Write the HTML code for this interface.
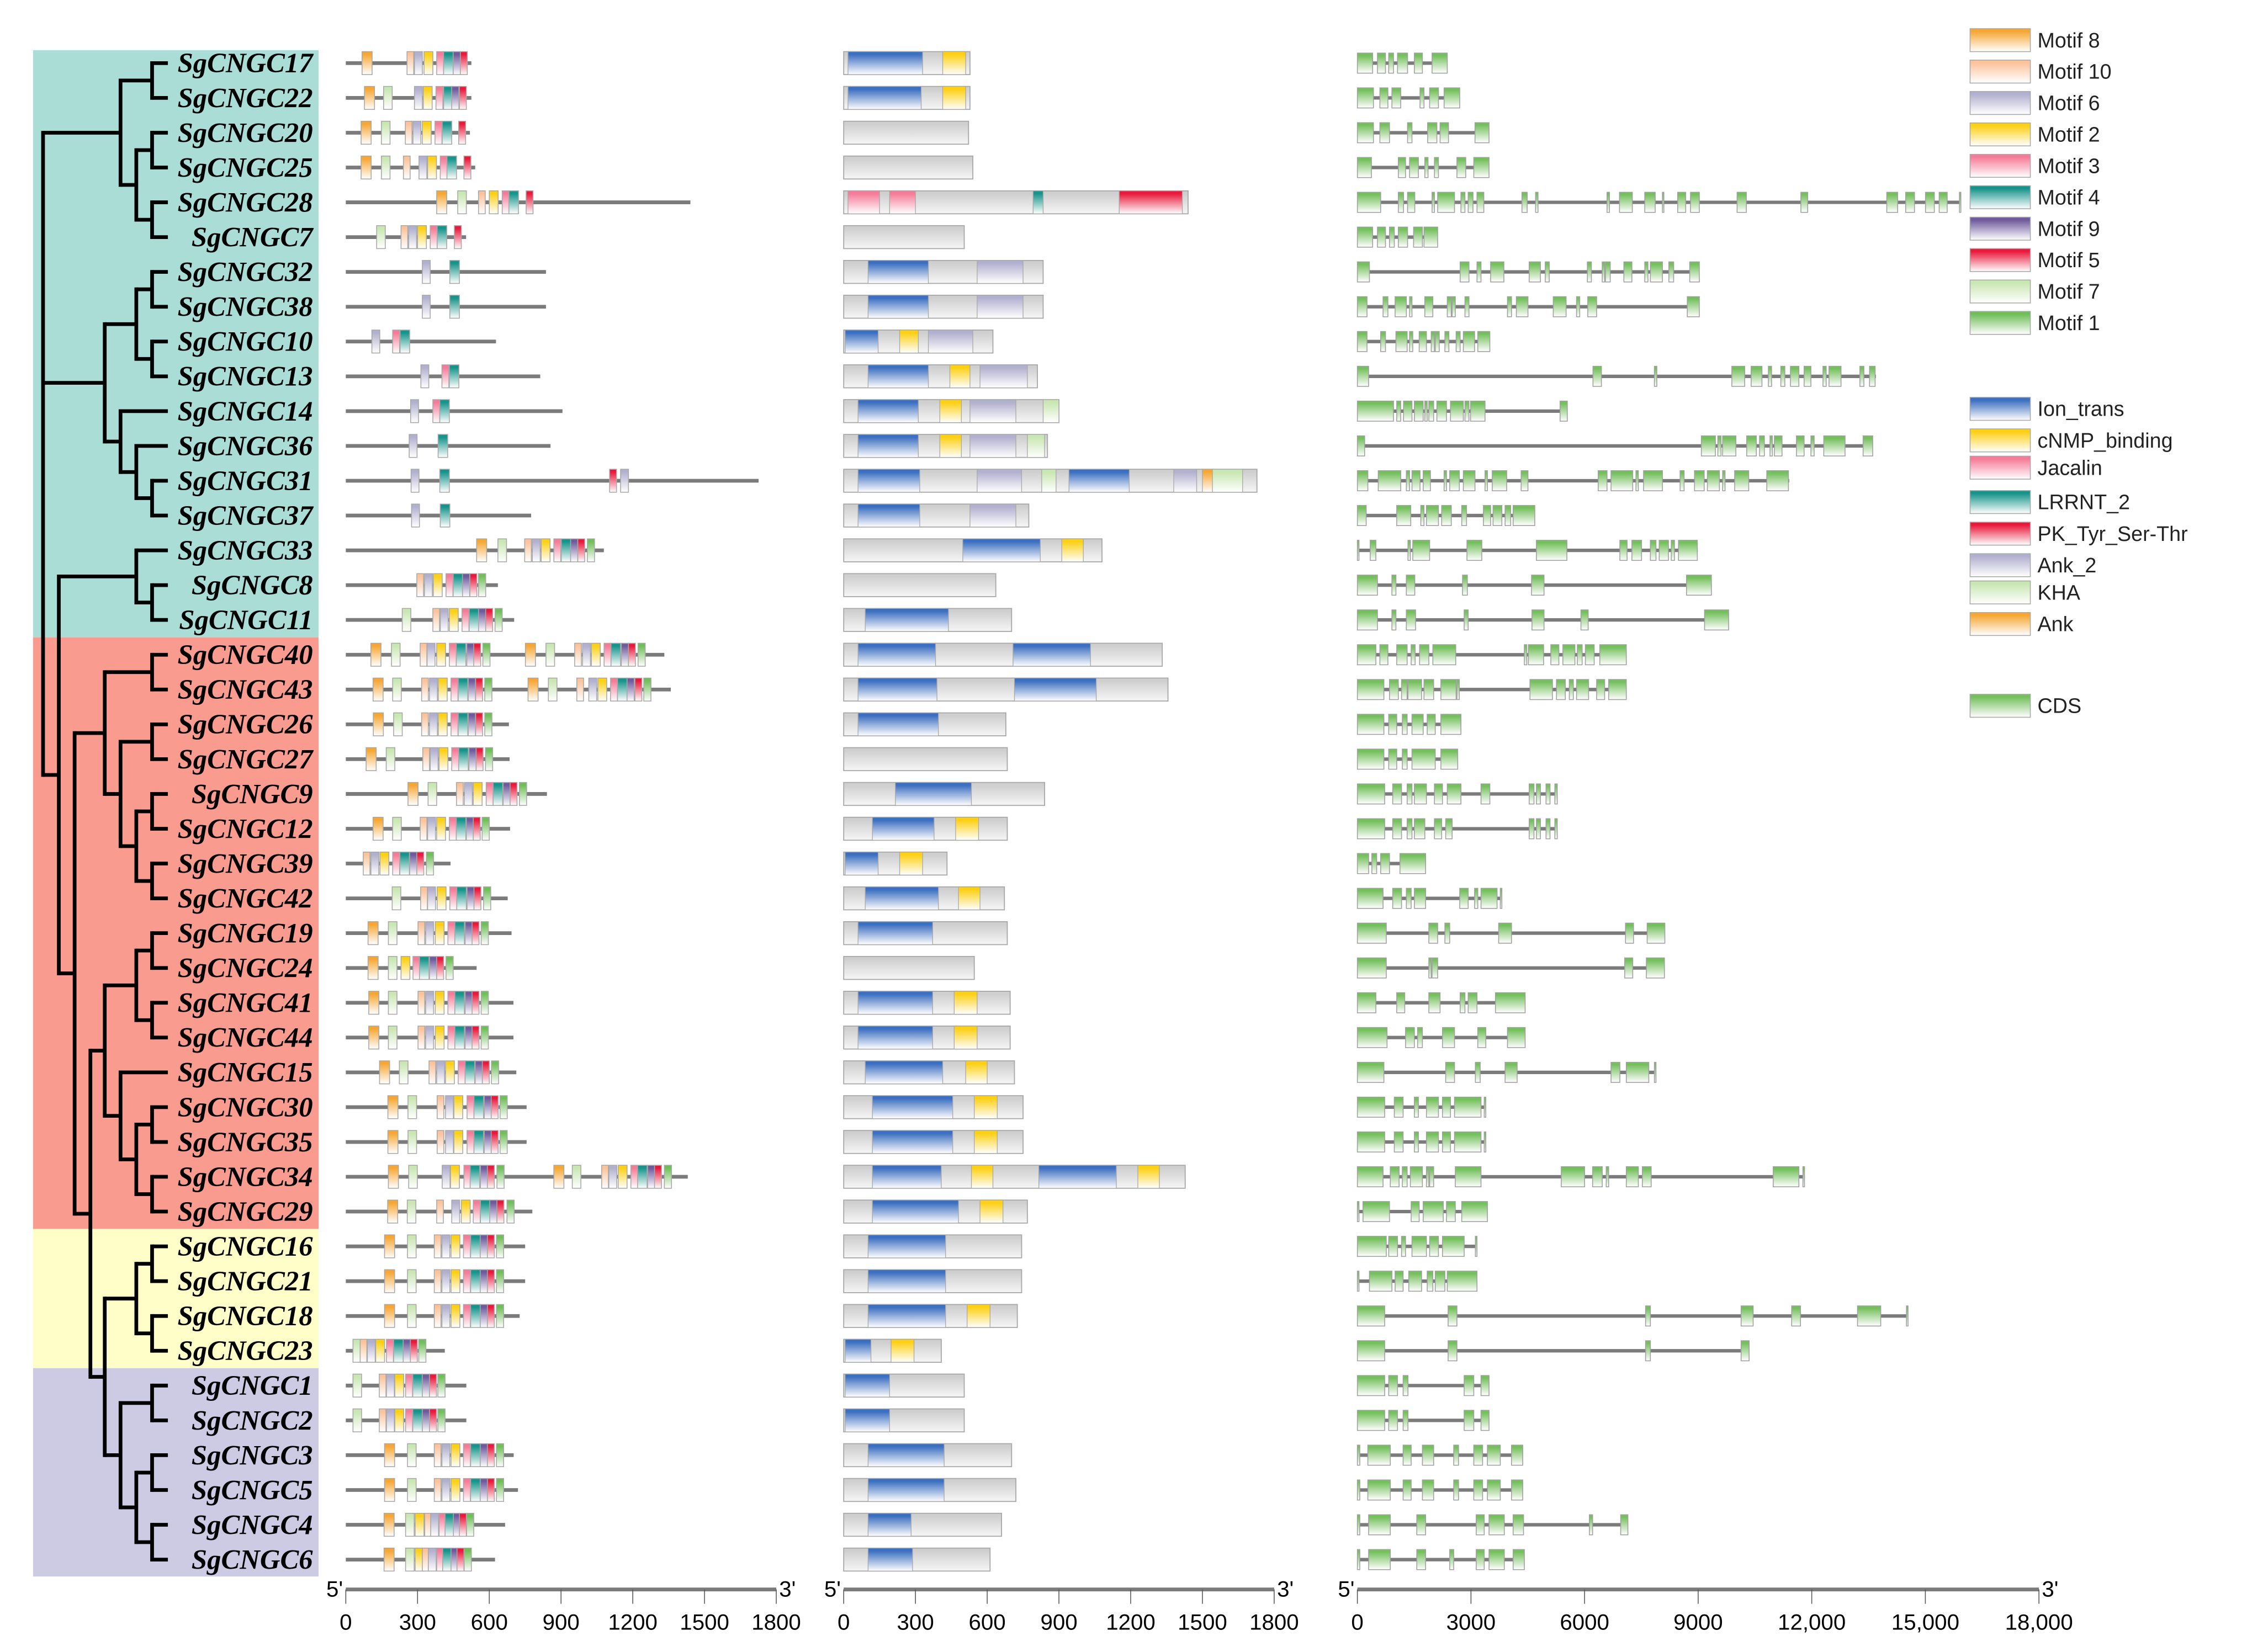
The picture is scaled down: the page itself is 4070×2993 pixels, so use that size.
<!DOCTYPE html>
<html><head><meta charset="utf-8"><style>
html,body{margin:0;padding:0;background:#fff;}
svg{display:block;}
</style></head><body>
<svg id="chart" xmlns="http://www.w3.org/2000/svg" width="4070" height="2993" viewBox="0 0 1566 1151.6" preserveAspectRatio="none">
<defs id="defs"></defs>
<g id="bg"></g>
<g id="tree"></g>
<g id="labels"></g>
<g id="motifs"></g>
<g id="domains"></g>
<g id="genes"></g>
<g id="axes"></g>
<g id="legend"></g>
</svg>
<script>
const NS="http://www.w3.org/2000/svg";
const geneNames=["SgCNGC17","SgCNGC22","SgCNGC20","SgCNGC25","SgCNGC28","SgCNGC7","SgCNGC32","SgCNGC38","SgCNGC10","SgCNGC13","SgCNGC14","SgCNGC36","SgCNGC31","SgCNGC37","SgCNGC33","SgCNGC8","SgCNGC11","SgCNGC40","SgCNGC43","SgCNGC26","SgCNGC27","SgCNGC9","SgCNGC12","SgCNGC39","SgCNGC42","SgCNGC19","SgCNGC24","SgCNGC41","SgCNGC44","SgCNGC15","SgCNGC30","SgCNGC35","SgCNGC34","SgCNGC29","SgCNGC16","SgCNGC21","SgCNGC18","SgCNGC23","SgCNGC1","SgCNGC2","SgCNGC3","SgCNGC5","SgCNGC4","SgCNGC6"];
const clades=[{from:0,to:16,color:"#a9ddd6"},{from:17,to:33,color:"#f99b8f"},{from:34,to:37,color:"#fffdc8"},{from:38,to:43,color:"#cdcbe4"}];
const tree=[30,[84,[106,0,1],[95,[106,2,3],[106,4,5]]],[73,[95,[106,6,7],[106,8,9]],[84,10,[95,11,[106,12,13]]]],[41,[95,14,[106,15,16]],[52,[73,[106,17,18],[84,[106,19,20],[95,[106,21,22],[106,23,24]]]],[63,[73,[95,[106,25,26],[106,27,28]],[84,29,[95,[106,30,31],[106,32,33]]]],[73,[95,[106,34,35],[106,36,37]],[84,[106,38,39],[95,[106,40,41],[106,42,43]]]]]]]];
const protLen=[525,525,519,541,1441,503,837,837,628,813,906,856,1726,775,1079,636,704,1332,1359,682,685,841,687,438,677,693,547,701,701,713,756,756,1430,780,750,750,727,414,504,504,702,720,666,624];
const motifPos=[
"8:68 10:256 6:287 2:327 3:380 4:409 9:449 5:479",
"8:78 7:158 6:287 2:324 3:377 4:409 9:443 5:475",
"8:64 7:149 10:249 6:281 2:320 3:373 4:403 5:472",
"8:64 7:149 10:241 6:306 2:342 3:395 4:423 5:494",
"8:380 7:468 10:555 2:600 3:654 4:682 5:754",
"7:129 10:231 6:263 2:300 3:353 4:382 5:454",
"6:320 4:435","6:320 4:435","6:109 3:196 4:227","6:314 3:402 4:433","6:271 3:364 4:393","6:265 4:386",
"6:273 4:393 5:1103 6:1149","6:275 4:395",
"8:547 7:636 10:748 6:780 2:817 3:870 4:901 9:940 5:970 1:1010",
"10:297 6:329 2:366 3:419 4:449 9:488 5:519 1:555",
"7:236 10:364 6:395 2:433 3:486 4:516 9:555 5:585 1:624",
"8:105 7:191 10:311 6:340 2:380 3:433 4:462 9:506 5:535 1:573 8:751 7:837 10:957 6:990 2:1027 3:1080 4:1109 9:1152 5:1182 1:1222",
"8:114 7:196 10:317 6:350 2:387 3:440 4:470 9:512 5:543 1:581 8:762 7:847 10:966 6:1016 2:1054 3:1107 4:1136 9:1176 5:1209 1:1246",
"8:115 7:200 10:317 6:350 2:387 3:440 4:470 9:512 5:543 1:581",
"8:85 7:169 10:322 6:353 2:390 3:443 4:472 9:515 5:545 1:584",
"8:260 7:344 10:463 6:496 2:533 3:587 4:616 9:658 5:687 1:726",
"8:114 7:196 10:311 6:342 2:380 3:433 4:462 9:504 5:533 1:570",
"10:73 6:105 2:143 3:196 4:226 9:267 5:297 1:337",
"7:194 10:313 6:342 2:382 3:435 4:464 9:507 5:536 1:576",
"8:93 7:178 10:302 6:334 2:374 3:427 4:456 9:499 5:528 1:566",
"8:93 7:178 2:231 3:281 4:308 9:350 5:380 1:419",
"8:96 7:178 10:302 6:334 2:374 3:427 4:456 9:499 5:528 1:566",
"8:96 7:178 10:302 6:334 2:374 3:427 4:456 9:499 5:528 1:566",
"8:141 7:224 10:348 6:380 2:417 3:470 4:499 9:541 5:571 1:609",
"8:176 7:260 10:382 6:417 2:452 3:507 4:536 9:579 5:608 1:645",
"8:176 7:260 10:382 6:417 2:452 3:507 4:536 9:579 5:608 1:645",
"8:178 7:263 6:403 2:438 3:494 4:520 9:563 5:592 1:632 8:870 7:947 10:1070 6:1100 2:1139 3:1192 4:1220 9:1262 5:1291 1:1332",
"8:175 7:257 10:380 6:443 2:483 3:533 4:563 9:602 5:632 1:674",
"8:162 7:258 10:370 6:402 2:440 3:492 4:522 9:562 5:592 1:630",
"8:162 7:258 10:370 6:402 2:440 3:492 4:522 9:562 5:592 1:630",
"8:162 7:258 10:370 6:402 2:440 3:492 4:522 9:562 5:592 1:630",
"7:30 10:60 6:90 2:125 3:170 4:200 9:240 5:270 1:305",
"7:30 10:140 6:170 2:205 3:250 4:280 9:320 5:350 1:385",
"7:30 10:140 6:170 2:205 3:250 4:280 9:320 5:350 1:385",
"8:162 7:258 10:370 6:402 2:440 3:492 4:522 9:562 5:592 1:630",
"8:162 7:258 10:370 6:402 2:440 3:492 4:522 9:562 5:592 1:630",
"8:160 7:250 2:290 10:330 6:355 3:390 4:415 9:450 5:475 1:505",
"8:160 7:250 2:290 10:320 6:345 3:380 4:405 9:440 5:465 1:495"];
const motifWidth={"8":42,"10":28,"6":33,"2":37,"3":29,"4":40,"9":30,"5":29,"7":36,"1":30};
const motifColor={"8":"#f6a733","10":"#fcc39b","6":"#b2b0cf","2":"#fdd014","3":"#f57b98","4":"#16948b","9":"#6e5a9c","5":"#e9193b","7":"#c9e7b2","1":"#6fbf58"};
const motifLegend=["8","10","6","2","3","4","9","5","7","1"];
const domLen=[528,528,522,540,1440,504,834,834,624,810,900,852,1728,774,1080,636,702,1332,1356,678,684,840,684,432,672,684,546,696,696,714,750,750,1428,768,744,744,726,408,504,504,702,720,660,612];
const domPos=["I:18-330 C:414-510","I:18-324 C:414-510","","","J:18-150 J:192-300 L:792-834 P:1152-1416","",
"I:102-354 A:558-750","I:102-354 A:558-750","I:6-144 C:234-312 A:354-540","I:102-354 C:444-528 A:570-768",
"I:60-312 C:402-492 A:528-720 K:834-900","I:60-312 C:402-492 A:528-720 K:768-840",
"I:60-318 A:558-744 K:828-888 I:942-1194 A:1380-1476 N:1500-1542 K:1542-1668","I:60-318 A:528-720",
"I:498-822 C:912-1002","","I:90-438","I:60-384 I:708-1032","I:60-390 I:714-1056","I:60-396","","I:216-534",
"I:120-378 C:468-564","I:6-144 C:234-330","I:90-396 C:480-570","I:60-372","","I:60-372 C:462-558","I:60-372 C:462-558",
"I:90-414 C:510-600","I:120-456 C:546-642","I:120-456 C:546-642","I:120-408 C:534-624 I:816-1140 C:1230-1320",
"I:120-480 C:570-666","I:102-426","I:102-426","I:102-426 C:516-612","I:6-114 C:198-294","I:6-192","I:6-192",
"I:102-420","I:102-420","I:102-282","I:102-288"];
const domColor={"I":"#3b6fc1","C":"#fdd014","J":"#f57b98","L":"#16948b","P":"#e9193b","A":"#b2b0cf","K":"#c9e7b2","N":"#f6a733"};
const domLegend=[["I","Ion_trans"],["C","cNMP_binding"],["J","Jacalin"],["L","LRRNT_2"],["P","PK_Tyr_Ser-Thr"],["A","Ank_2"],["K","KHA"],["N","Ank"]];
const geneLen=[2374,2703,3477,3477,15921,2120,9031,9031,3498,13695,5544,13610,11406,4685,8989,9360,9805,7102,7102,2735,2650,5279,5279,1802,3816,8120,8109,4431,4431,7886,3392,3392,11808,3434,3159,3159,14543,10346,3477,3477,4367,4367,7144,4410];
const exonPos=[
"0-403 530-742 827-954 1060-1325 1505-1717 1972-2374",
"0-424 594-806 912-1145 1654-1760 1908-2141 2290-2703",
"0-424 594-848 1325-1442 1855-2099 2184-2406 3106-3477",
"0-371 1081-1272 1378-1611 1781-1866 2035-2141 2629-2862 3074-3477",
"0-615 1081-1219 1325-1516 1972-2035 2120-2565 2735-2841 2926-3053 3159-3339 4346-4484 4706-4770 6593-6657 6922-7261 7590-7865 8056-8088 8459-8671 8798-9031 10028-10272 11713-11893 13981-14268 14480-14713 15004-15237 15365-15577 15900-15921",
"0-403 530-742 848-975 1081-1325 1484-1717 1759-2120",
"0-318 2714-2947 3159-3265 3519-3869 4537-4834 4961-5067 6074-6180 6466-6530 6551-6678 7038-7250 7590-7674 7738-8056 8226-8353 8777-9031",
"0-254 678-806 996-1293 1378-1442 1781-1993 2374-2480 2502-2586 2841-2947 3964-4070 4198-4505 5173-5512 5788-5872 6084-6318 8713-9031",
"0-254 615-742 1018-1314 1378-1463 1632-1823 1950-2035 2056-2162 2311-2417 2608-2714 2798-3095 3180-3498",
"0-297 6222-6445 7844-7908 9889-10229 10399-10685 10854-10939 11183-11289 11437-11660 11798-11978 12296-12381 12455-12773 13271-13377 13526-13674",
"0-954 1039-1145 1219-1442 1505-1738 1781-1844 1886-2014 2099-2353 2459-2798 2841-2947 2989-3371 5353-5544",
"0-191 9084-9455 9519-9604 9646-9996 10282-10536 10621-10748 10897-10960 11013-11215 11596-11798 11978-12063 12317-12879 13356-13610",
"0-276 551-1145 1293-1378 1442-1654 1738-1929 2290-2353 2438-2692 2798-3106 3371-3434 3562-3943 4325-4505 6360-6593 6699-7272 7357-7420 7558-8056 8523-8629 8904-9159 9243-9561 9646-9710 9964-10335 10812-11384",
"0-233 1039-1410 1675-1760 1823-2141 2226-2480 2756-2883 3328-3519 3583-3816 3901-4049 4113-4685",
"0-42 339-488 1336-1399 1463-1908 2894-3286 4728-5533 6932-7123 7250-7505 7738-7886 7971-8215 8289-8374 8480-8978",
"0-530 912-1018 1293-1516 2777-2904 4600-4929 8692-9349",
"0-530 912-1018 1293-1537 2820-2926 4611-4929 5904-6095 9169-9805",
"0-488 594-806 1039-1314 1420-1526 1643-1887 1993-2597 4409-4473 4516-4918 5109-5321 5427-5745 5809-5936 6021-6254 6402-7102",
"0-700 848-1081 1166-1314 1336-1696 1759-2014 2205-2608 2629-2692 4558-5152 5258-5491 5597-5703 5788-6106 6318-6530 6636-7102",
"0-700 827-1039 1187-1314 1442-1738 1844-2056 2205-2735",
"0-700 827-1039 1187-1314 1442-2056 2205-2650",
"0-721 933-1166 1314-1442 1505-1823 2035-2247 2374-2735 3265-3498 4537-4664 4728-4834 4982-5088 5215-5279",
"0-721 933-1166 1314-1442 1505-1781 2035-2226 2332-2502 4537-4664 4728-4834 4982-5088 5215-5279",
"0-297 382-509 615-848 1124-1802",
"0-678 933-1166 1293-1420 1505-1802 2703-2926 3095-3180 3265-3689 3774-3816",
"0-763 1887-2120 2311-2438 3731-4070 7081-7293 7653-8120",
"0-763 1887-1950 1972-2120 7060-7272 7632-8109",
"0-488 1039-1251 1887-2184 2714-2841 2926-3159 3646-4431",
"0-784 1272-1505 1590-1717 2247-2565 3180-3392 3964-4431",
"0-700 2332-2565 3116-3243 3901-4219 6699-6932 7102-7696 7844-7886",
"0-721 975-1208 1505-1611 1823-2141 2247-2459 2565-3265 3350-3392",
"0-721 975-1208 1505-1611 1823-2141 2247-2459 2565-3265 3350-3392",
"0-678 869-1102 1187-1314 1399-1717 1823-1887 1908-2014 2586-3265 5385-6000 6212-6466 6572-6636 7102-7420 7526-7759 10982-11660 11766-11808",
"0-42 148-848 1420-1632 1738-2268 2353-2586 2756-3434",
"0-763 827-1060 1166-1272 1442-1823 1908-2141 2247-2820 3116-3159",
"0-42 318-912 996-1208 1357-1696 1844-1993 2056-2311 2374-3159",
"0-721 2396-2629 7611-7738 10134-10452 11469-11702 13208-13822 14501-14543",
"0-721 2396-2629 7611-7738 10134-10346",
"0-721 827-1060 1208-1336 2820-3074 3265-3477",
"0-721 827-1060 1208-1336 2820-3074 3265-3477",
"0-64 276-869 1208-1420 1717-2014 2544-2671 3074-3307 3434-3774 4070-4367",
"0-64 276-869 1208-1420 1717-2014 2544-2671 3074-3307 3434-3774 4070-4367",
"0-64 297-869 1569-1802 3138-3350 3477-3880 4113-4388 6127-6212 6954-7144",
"0-64 297-869 1569-1802 2438-2544 3138-3350 3477-3880 4113-4410"];
const aaTicks=[0,300,600,900,1200,1500,1800];
const aaTickLabels=["0","300","600","900","1200","1500","1800"];
const bpTicks=[0,3000,6000,9000,12000,15000,18000];
const bpTickLabels=["0","3000","6000","9000","12,000","15,000","18,000"];

// ---- scales ----
const rowY=i=>44+i*24.26;
const motifX=aa=>241+aa*300/1800;
const domX=aa=>588+aa*300/1800;
const geneX=bp=>946+bp*475/18000;

function el(tag,attrs,parent){const e=document.createElementNS(NS,tag);for(const k in attrs)e.setAttribute(k,attrs[k]);if(parent)parent.appendChild(e);return e;}
const defs=document.getElementById('defs');
function grad(id,color,end){const g=el('linearGradient',{id:id,x1:0,y1:0,x2:0,y2:1},defs);el('stop',{offset:0,'stop-color':color},g);el('stop',{offset:0.12,'stop-color':color},g);el('stop',{offset:1,'stop-color':end||'#ffffff'},g);}
for(const k in motifColor)grad('gm'+k,motifColor[k]);
for(const k in domColor)grad('gd'+k,domColor[k]);
grad('gbar','#cfcfcf','#f6f6f6');
grad('gexon','#74c05c','#ffffff');

// backgrounds
const bg=document.getElementById('bg');
clades.forEach((c,i)=>{
  const y0=c.from===0?35:rowY(c.from)-12.13, y1=c.to===43?1099:rowY(c.to)+12.13;
  const r=el('rect',{x:23,y:y0,width:199,height:y1-y0,fill:c.color},bg);
  
  
});

// tree
const tg=document.getElementById('tree');
const TIP=117;
function drawNode(n){
  if(typeof n==='number'){return {y:rowY(n)};}
  const x=n[0];const kids=n.slice(1).map(k=>{const r=drawNode(k);return {r:r,k:k};});
  kids.forEach(o=>{
    const cx=typeof o.k==='number'?TIP:o.k[0];
    const l=el('line',{x1:x,y1:o.r.y,x2:cx,y2:o.r.y,stroke:'#000','stroke-width':2.6},tg);
    
    
  });
  const y0=kids[0].r.y,y1=kids[kids.length-1].r.y;
  const v=el('line',{x1:x,y1:y0-1.3,x2:x,y2:y1+1.3,stroke:'#000','stroke-width':2.6},tg);
  
  
  return {y:(y0+y1)/2};
}
drawNode(tree);

// labels
const lg=document.getElementById('labels');
geneNames.forEach((n,i)=>{
  const t=el('text',{x:218,y:rowY(i)+6.5,'text-anchor':'end','font-family':'"Liberation Serif",serif','font-weight':'bold','font-style':'italic','font-size':19.5,fill:'#000'},lg);
  t.textContent=n;
  
  
});

// motif panel
const mg=document.getElementById('motifs');
geneNames.forEach((n,i)=>{
  const y=rowY(i);const g=el('g',{},mg);
  
  
  el('line',{x1:motifX(0),y1:y,x2:motifX(protLen[i]),y2:y,stroke:'#7b7b7b','stroke-width':2.6},g);
  motifPos[i].split(' ').filter(s=>s).forEach(s=>{
    const [m,p]=s.split(':');const st=+p;
    const r=el('rect',{x:motifX(st),y:y-8,width:motifX(st+motifWidth[m])-motifX(st),height:16,fill:'url(#gm'+m+')',stroke:'#a8a8a8','stroke-width':0.6},g);
    
    
  });
});

// domain panel
const dg=document.getElementById('domains');
geneNames.forEach((n,i)=>{
  const y=rowY(i);const g=el('g',{},dg);
  
  
  el('rect',{x:domX(0),y:y-8,width:domX(domLen[i])-domX(0),height:16,fill:'url(#gbar)',stroke:'#a8a8a8','stroke-width':0.7},g);
  domPos[i].split(' ').filter(s=>s).forEach(s=>{
    const [d,rg]=s.split(':');const [a,b]=rg.split('-').map(Number);
    const r=el('rect',{x:domX(a),y:y-8,width:domX(b)-domX(a),height:16,fill:'url(#gd'+d+')',stroke:'#a8a8a8','stroke-width':0.5},g);
    
    
  });
});

// gene structure panel
const gg=document.getElementById('genes');
geneNames.forEach((n,i)=>{
  const y=rowY(i);const g=el('g',{},gg);
  
  
  el('line',{x1:geneX(0),y1:y,x2:geneX(geneLen[i]),y2:y,stroke:'#7b7b7b','stroke-width':2.4},g);
  exonPos[i].split(' ').filter(s=>s).forEach(s=>{
    const [a,b]=s.split('-').map(Number);
    const r=el('rect',{x:geneX(a),y:y-7,width:Math.max(geneX(b)-geneX(a),1),height:14,fill:'url(#gexon)',stroke:'#a0a0a0','stroke-width':0.6},g);
    
    
  });
});

// axes
const ag=document.getElementById('axes');
function axis(name,ticks,labels,fx){
  const g=el('g',{},ag);
  
  
  const x0=fx(ticks[0]),x1=fx(ticks[ticks.length-1]),y=1108;
  el('line',{x1:x0,y1:y,x2:x1,y2:y,stroke:'#7b7b7b','stroke-width':2.6},g);
  ticks.forEach((t,k)=>{
    el('line',{x1:fx(t),y1:y,x2:fx(t),y2:y+10,stroke:'#555','stroke-width':0.6},g);
    const tx=el('text',{x:fx(t),y:1136,'text-anchor':'middle','font-family':'"Liberation Sans",sans-serif','font-size':15.5,fill:'#000'},g);
    tx.textContent=labels[k];
  });
  const a=el('text',{x:x0-2,y:y+5,'text-anchor':'end','font-family':'"Liberation Sans",sans-serif','font-size':15.5,fill:'#000'},g);a.textContent="5'";
  const b=el('text',{x:x1+2,y:y+5,'text-anchor':'start','font-family':'"Liberation Sans",sans-serif','font-size':15.5,fill:'#000'},g);b.textContent="3'";
}
axis('motif-axis',aaTicks,aaTickLabels,motifX);
axis('domain-axis',aaTicks,aaTickLabels,domX);
axis('gene-axis',bpTicks,bpTickLabels,geneX);

// legend
const leg=document.getElementById('legend');
function legendEntry(y,fill,label){
  const g=el('g',{},leg);
  
  
  el('rect',{x:1373,y:y-8,width:42,height:16,fill:fill,stroke:'#a8a8a8','stroke-width':0.6},g);
  const t=el('text',{x:1420,y:y+5,'font-family':'"Liberation Sans",sans-serif','font-size':14.5,fill:'#222'},g);
  t.textContent=label;
}
motifLegend.forEach((m,k)=>legendEntry(28+k*21.9,'url(#gm'+m+')','Motif '+m));
const domLegY=[285,307,326,350,372,394,413,435];
domLegend.forEach((d,k)=>legendEntry(domLegY[k],'url(#gd'+d[0]+')',d[1]));
legendEntry(492,'url(#gexon)','CDS');
</script>
</body></html>
